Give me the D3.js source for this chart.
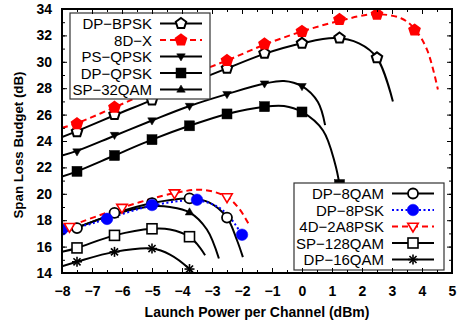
<!DOCTYPE html>
<html>
<head>
<meta charset="utf-8">
<script src="https://cdn.jsdelivr.net/npm/d3@7"></script>
<style>
  body { margin: 0; background: #fff; }
  text { font-family: "Liberation Sans", Arial, sans-serif; }
</style>
</head>
<body>
<div id="chart"></div>
<script>
// ticks
const xTicks = d3.range(-8, 6, 1);
const xMinor = d3.range(-8, 5.01, 0.5);
const yTicks = d3.range(14, 35, 2);
const yMinor = d3.range(14, 34.01, 1);

// measured points (markers) and fitted curves, [launch power, budget]
const dpBpskPts = [[-7.5,24.7],[-6.25,26.0],[-5,27.1],[-3.75,28.35],[-2.5,29.5],[-1.25,30.65],[0,31.4],[1.25,31.8],[2.5,30.3]];
const dpBpskFit = [[-8,24.3],[-7.5,24.75],[-6.25,25.95],[-5,27.1],[-3.75,28.35],[-2.5,29.5],[-1.25,30.6],[0,31.4],[1.1,31.8],[1.9,31.4],[2.5,30.3],[3.03,27.0]];

const d8xPts = [[-7.5,25.3],[-6.25,26.55],[-5,27.8],[-3.75,29.0],[-2.5,30.1],[-1.25,31.35],[0,32.3],[1.25,33.2],[2.5,33.6],[3.75,32.4]];
const d8xFit = [[-8,25.0],[-7.5,25.35],[-6.25,26.55],[-5,27.8],[-3.75,29.0],[-2.5,30.1],[-1.25,31.3],[0,32.3],[1.25,33.1],[2.4,33.6],[3.3,33.3],[3.75,32.5],[4.17,30.9],[4.53,27.9]];

const psQpskPts = [[-7.5,23.2],[-6.25,24.45],[-5,25.55],[-3.75,26.65],[-2.5,27.55],[-1.25,28.35],[0,28.15]];
const psQpskFit = [[-8,22.9],[-7.5,23.25],[-6.25,24.4],[-5,25.55],[-3.75,26.65],[-2.5,27.55],[-1.25,28.35],[-0.6,28.55],[0,28.15],[0.53,26.95],[0.77,25.2]];

const dpQpskPts = [[-7.5,21.7],[-6.25,22.9],[-5,24.1],[-3.75,25.15],[-2.5,26.05],[-1.25,26.6],[0,26.2],[1.25,20.7]];
const dpQpskFit = [[-8,21.3],[-7.5,21.7],[-6.25,22.9],[-5,24.1],[-3.75,25.15],[-2.5,26.05],[-1.25,26.6],[-0.6,26.65],[0,26.2],[0.7,24.8],[1.1,22.3],[1.25,20.7]];

const sp32Pts = [[-7.5,17.4],[-6.25,18.4],[-5,19.05],[-3.75,18.6]];
const sp32Fit = [[-8,17.1],[-7.5,17.45],[-6.25,18.45],[-5,19.05],[-4.4,19.0],[-3.75,18.6],[-3.17,17.3],[-2.77,15.1]];

const dp8qamPts = [[-7.5,17.4],[-6.25,18.55],[-5,19.3],[-3.75,19.65],[-2.5,18.2]];
const dp8qamFit = [[-8,17.15],[-7.5,17.45],[-6.25,18.5],[-5,19.3],[-3.75,19.65],[-3.1,19.35],[-2.5,18.2],[-2.17,16.5],[-1.97,15.2]];

const dp8pskPts = [[-8,17.3],[-6.5,18.1],[-5,19.15],[-3.5,19.55],[-2,16.9]];
const dp8pskFit = [[-8,17.3],[-7.25,17.6],[-6.5,18.1],[-5,19.1],[-3.5,19.5],[-2.8,19.0],[-2.4,18.2],[-2,16.9]];

const d4a8Pts = [[-7.75,17.5],[-6,18.95],[-4.25,20.05],[-2.5,19.75]];
const d4a8Fit = [[-8,17.35],[-7.75,17.55],[-6,18.95],[-4.25,20.05],[-3.3,20.3],[-2.5,19.75],[-2.07,18.8],[-1.73,17.5]];

const sp128Pts = [[-7.5,15.9],[-6.25,16.85],[-5,17.35],[-3.75,16.75]];
const sp128Fit = [[-8,15.6],[-7.5,15.9],[-6.25,16.85],[-5,17.35],[-4.4,17.3],[-3.75,16.75],[-3.5,16.2],[-3.23,15.35]];

const dp16Pts = [[-7.5,14.85],[-6.25,15.6],[-5,15.85],[-3.75,14.3]];
const dp16Fit = [[-8,14.5],[-7.5,14.85],[-6.25,15.6],[-5,15.85],[-4.4,15.4],[-3.75,14.3],[-3.6,13.9]];

const legendTop = ["DP\u2212BPSK", "8D\u2212X", "PS\u2212QPSK", "DP\u2212QPSK", "SP\u221232QAM"];
const legendBottom = ["DP\u22128QAM", "DP\u22128PSK", "4D\u22122A8PSK", "SP\u2212128QAM", "DP\u221216QAM"];

// series table with styles
const series = [
  {name: legendTop[0], pts: dpBpskPts, fit: dpBpskFit, color: "#000", dash: null, shape: "pentagon", fill: false},
  {name: legendTop[1], pts: d8xPts, fit: d8xFit, color: "#f00", dash: "6,4", shape: "pentagon", fill: true},
  {name: legendTop[2], pts: psQpskPts, fit: psQpskFit, color: "#000", dash: null, shape: "tridown", fill: true},
  {name: legendTop[3], pts: dpQpskPts, fit: dpQpskFit, color: "#000", dash: null, shape: "square", fill: true},
  {name: legendTop[4], pts: sp32Pts, fit: sp32Fit, color: "#000", dash: null, shape: "triup", fill: true},
  {name: legendBottom[0], pts: dp8qamPts, fit: dp8qamFit, color: "#000", dash: null, shape: "circle", fill: false},
  {name: legendBottom[1], pts: dp8pskPts, fit: dp8pskFit, color: "#00f", dash: "2,2.5", shape: "circle", fill: true},
  {name: legendBottom[2], pts: d4a8Pts, fit: d4a8Fit, color: "#f00", dash: "6,4", shape: "tridown", fill: false},
  {name: legendBottom[3], pts: sp128Pts, fit: sp128Fit, color: "#000", dash: null, shape: "square", fill: false},
  {name: legendBottom[4], pts: dp16Pts, fit: dp16Fit, color: "#000", dash: null, shape: "star", fill: false}
];

const margin = {top: 9, right: 7, bottom: 54, left: 62};
const W = 459, H = 327;
const width = W - margin.left - margin.right;
const height = H - margin.top - margin.bottom;

const x = d3.scaleLinear().domain([-8, 5]).range([0, width]);
const y = d3.scaleLinear().domain([14, 34]).range([height, 0]);

const svg = d3.select("#chart").append("svg")
    .attr("width", W)
    .attr("height", H);
const g = svg.append("g")
    .attr("transform", "translate(" + margin.left + "," + margin.top + ")");

svg.append("defs").append("clipPath").attr("id", "clip")
  .append("rect").attr("width", width).attr("height", height);

// draw one marker symbol
function drawMarker(sel, s, cx, cy) {
  const stroke = s.color, fill = s.fill ? s.color : "#fff";
  if (s.shape === "pentagon") {
    const r = 5.5;
    const pts = d3.range(5).map(k => {
      const a = -Math.PI / 2 + k * 2 * Math.PI / 5;
      return [cx + r * Math.cos(a), cy + r * Math.sin(a)];
    });
    sel.append("polygon").attr("points", pts.join(" "))
      .attr("fill", fill).attr("stroke", stroke).attr("stroke-width", 2);
  } else if (s.shape === "circle") {
    sel.append("circle").attr("cx", cx).attr("cy", cy)
      .attr("r", s.fill ? 5.8 : 5)
      .attr("fill", fill).attr("stroke", stroke).attr("stroke-width", s.fill ? 0.5 : 1.8);
  } else if (s.shape === "square") {
    const h = 5;
    sel.append("rect").attr("x", cx - h).attr("y", cy - h)
      .attr("width", 2 * h).attr("height", 2 * h)
      .attr("fill", fill).attr("stroke", stroke).attr("stroke-width", s.fill ? 0.5 : 1.6);
  } else if (s.shape === "tridown" || s.shape === "triup") {
    const r = s.fill ? 4.5 : 5.5;
    const d = s.shape === "tridown" ? 1 : -1;
    const pts = [[cx, cy + d * r], [cx - r * 0.95, cy - d * r * 0.6], [cx + r * 0.95, cy - d * r * 0.6]];
    sel.append("polygon").attr("points", pts.join(" "))
      .attr("fill", fill).attr("stroke", stroke).attr("stroke-width", s.fill ? 0.5 : 1.6);
  } else if (s.shape === "star") {
    const r = 5;
    [0, 45, 90, 135].forEach(a => {
      const t = a * Math.PI / 180;
      sel.append("line")
        .attr("x1", cx - r * Math.cos(t)).attr("y1", cy - r * Math.sin(t))
        .attr("x2", cx + r * Math.cos(t)).attr("y2", cy + r * Math.sin(t))
        .attr("stroke", stroke).attr("stroke-width", 1.6);
    });
  }
}

const line = d3.line()
    .x(d => x(d[0]))
    .y(d => y(d[1]))
    .curve(d3.curveCatmullRom.alpha(0.5));

const plot = g.append("g").attr("clip-path", "url(#clip)");

// curves first, markers on top
series.forEach(s => {
  plot.append("path")
    .attr("d", line(s.fit))
    .attr("fill", "none")
    .attr("stroke", s.color)
    .attr("stroke-width", 2)
    .attr("stroke-dasharray", s.dash);
});
series.forEach(s => {
  const mg = plot.append("g");
  s.pts.forEach(p => drawMarker(mg, s, x(p[0]), y(p[1])));
});

// legends (white boxes over the curves)
function drawLegend(items, bx, by, bw, bh, textRight) {
  const lg = g.append("g");
  lg.append("rect").attr("x", bx).attr("y", by).attr("width", bw).attr("height", bh)
    .attr("fill", "#fff").attr("stroke", "#333").attr("stroke-width", 1.2);
  items.forEach((s, i) => {
    const cy = by + 10.5 + i * 16.5;
    lg.append("text").attr("x", textRight).attr("y", cy + 5.5)
      .attr("text-anchor", "end").attr("font-size", 15).text(s.name);
    lg.append("line").attr("x1", textRight + 8).attr("x2", textRight + 50)
      .attr("y1", cy).attr("y2", cy)
      .attr("stroke", s.color).attr("stroke-width", 2).attr("stroke-dasharray", s.dash);
    drawMarker(lg, s, textRight + 29, cy);
  });
}
drawLegend(series.slice(0, 5), 8, 4, 140, 86, 90);
drawLegend(series.slice(5), 232, 174, 150, 87, 322);

// axes, ticks pointing inward on all four sides
g.append("g").attr("transform", "translate(0," + height + ")")
  .call(d3.axisBottom(x).tickValues(xTicks).tickSize(-5).tickPadding(13).tickFormat(d3.format("d")));
g.append("g").attr("transform", "translate(0," + height + ")")
  .call(d3.axisBottom(x).tickValues(xMinor).tickSize(-3).tickFormat(""));
g.append("g")
  .call(d3.axisTop(x).tickValues(xTicks).tickSize(-5).tickFormat(""));
g.append("g")
  .call(d3.axisTop(x).tickValues(xMinor).tickSize(-3).tickFormat(""));
g.append("g")
  .call(d3.axisLeft(y).tickValues(yTicks).tickSize(-5).tickPadding(10).tickFormat(d3.format("d")));
g.append("g")
  .call(d3.axisLeft(y).tickValues(yMinor).tickSize(-3).tickFormat(""));
g.append("g").attr("transform", "translate(" + width + ",0)")
  .call(d3.axisRight(y).tickValues(yTicks).tickSize(-5).tickFormat(""));
g.append("g").attr("transform", "translate(" + width + ",0)")
  .call(d3.axisRight(y).tickValues(yMinor).tickSize(-3).tickFormat(""));

g.selectAll(".domain").remove();
g.selectAll(".tick line").attr("stroke", "#000").attr("stroke-width", 1);
g.selectAll(".tick text")
  .attr("font-family", "'Liberation Sans', Arial, sans-serif")
  .attr("font-size", 14).attr("font-weight", "bold").attr("fill", "#000");

g.append("rect").attr("width", width).attr("height", height)
  .attr("fill", "none").attr("stroke", "#000").attr("stroke-width", 2);

// axis titles
svg.append("text")
  .attr("x", margin.left + width / 2).attr("y", 317)
  .attr("text-anchor", "middle").attr("font-size", 14).attr("font-weight", "bold")
  .text("Launch Power per Channel (dBm)");
svg.append("text")
  .attr("transform", "translate(23,145) rotate(-90)")
  .attr("text-anchor", "middle").attr("font-size", 13.3).attr("font-weight", "bold")
  .text("Span Loss Budget (dB)");
</script>
</body>
</html>
